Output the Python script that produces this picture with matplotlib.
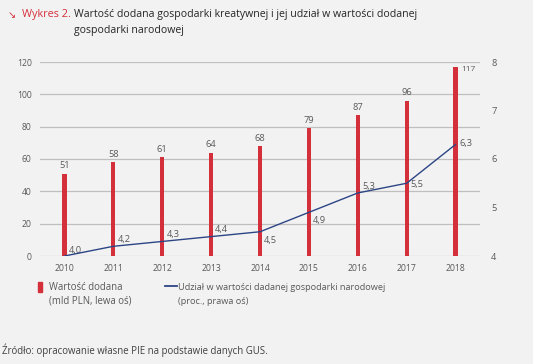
import matplotlib
matplotlib.use("Agg")
import matplotlib.pyplot as plt
from matplotlib.lines import Line2D
from matplotlib.patches import Rectangle

years = ["2010", "2011", "2012", "2013", "2014", "2015", "2016", "2017", "2018"]
value_added = [51, 58, 61, 64, 68, 79, 87, 96, 117]
share = [4.0, 4.2, 4.3, 4.4, 4.5, 4.9, 5.3, 5.5, 6.3]
share_labels = ["4,0", "4,2", "4,3", "4,4", "4,5", "4,9", "5,3", "5,5", "6,3"]
left_ticks = [0, 20, 40, 60, 80, 100, 120]
right_ticks = [4, 5, 6, 7, 8]

# label offsets in points (styling, not data)
share_offsets = [(3, 4), (3, 5), (3, 5), (3, 5), (3, -6), (3, -6), (3, 5), (3, -1), (3, 1)]

plt.rcParams['font.family'] = ['Open Sans', 'DejaVu Sans']
BG = "#f2f2f2"
RED = "#d4303c"
NAVY = "#2c4585"
GRAY = "#595959"

fig = plt.figure(figsize=(5.33, 3.64), dpi=100, facecolor=BG)
W, H = 533, 364
ax = fig.add_axes([40 / W, 1 - 256 / H, 440 / W, (256 - 62) / H], facecolor=BG)
x = list(range(len(years)))
ax.bar(x, value_added, width=0.085, color=RED, zorder=3)
ax.set_xlim(-0.5, len(years) - 0.5)
ax.set_ylim(0, 120)
ax.set_yticks(left_ticks)
ax.set_xticks(x)
ax.set_xticklabels(years)
ax.grid(axis='y', color="#bfbfbf", linewidth=0.9, zorder=0)
ax.tick_params(length=0, labelsize=6.2, colors=GRAY, pad=6)
for s in ax.spines.values():
    s.set_visible(False)

for i, v in enumerate(value_added):
    if i == len(value_added) - 1:
        ax.annotate(str(v), (i, v), xytext=(4, -2), textcoords='offset points',
                    ha='left', va='center', fontsize=6, color=GRAY)
    else:
        ax.annotate(str(v), (i, v), xytext=(0, 2.5), textcoords='offset points',
                    ha='center', va='bottom', fontsize=6.7, color=GRAY)

ax2 = ax.twinx()
ax2.plot(x, share, color=NAVY, linewidth=1.0, zorder=4)
ax2.set_ylim(4, 8)
ax2.set_yticks(right_ticks)
ax2.tick_params(length=0, labelsize=6.7, colors=GRAY, pad=8)
for s in ax2.spines.values():
    s.set_visible(False)
for i, (v, lab) in enumerate(zip(share, share_labels)):
    dx, dy = share_offsets[i]
    ax2.annotate(lab, (i, v), xytext=(dx, dy), textcoords='offset points',
                 ha='left', va='center', fontsize=6.7, color=GRAY)

# title
fig.text(8 / W, 1 - 15 / H, "↘", color=RED, fontsize=7, va='center', ha='left',
         family=['DejaVu Sans'])
fig.text(22 / W, 1 - 15 / H, "Wykres 2.", color=RED, fontsize=7.8, va='center', ha='left')
fig.text(74 / W, 1 - 15 / H, "Wartość dodana gospodarki kreatywnej i jej udział w wartości dodanej",
         color="#262626", fontsize=7.6, va='center', ha='left')
fig.text(74 / W, 1 - 30 / H, "gospodarki narodowej",
         color="#262626", fontsize=7.6, va='center', ha='left')

# legend
fig.patches.append(Rectangle((38 / W, 1 - 292 / H), 4 / W, 10 / H, transform=fig.transFigure,
                             color=RED))
fig.text(49 / W, 1 - 287 / H, "Wartość dodana", fontsize=6.9, color=GRAY, va='center', ha='left')
fig.text(49 / W, 1 - 301 / H, "(mld PLN, lewa oś)", fontsize=6.9, color=GRAY, va='center', ha='left')
fig.lines.append(Line2D([165 / W, 177 / W], [1 - 286 / H, 1 - 286 / H], transform=fig.transFigure,
                        color=NAVY, linewidth=1.3))
fig.text(178 / W, 1 - 287 / H, "Udział w wartości dadanej gospodarki narodowej", fontsize=6.6,
         color=GRAY, va='center', ha='left')
fig.text(178 / W, 1 - 301 / H, "(proc., prawa oś)", fontsize=6.6, color=GRAY, va='center', ha='left')

fig.text(2 / W, 1 - 350 / H, "Źródło: opracowanie własne PIE na podstawie danych GUS.",
         fontsize=6.9, color="#404040", va='center', ha='left')

fig.savefig("out.png", dpi=100, facecolor=BG)
